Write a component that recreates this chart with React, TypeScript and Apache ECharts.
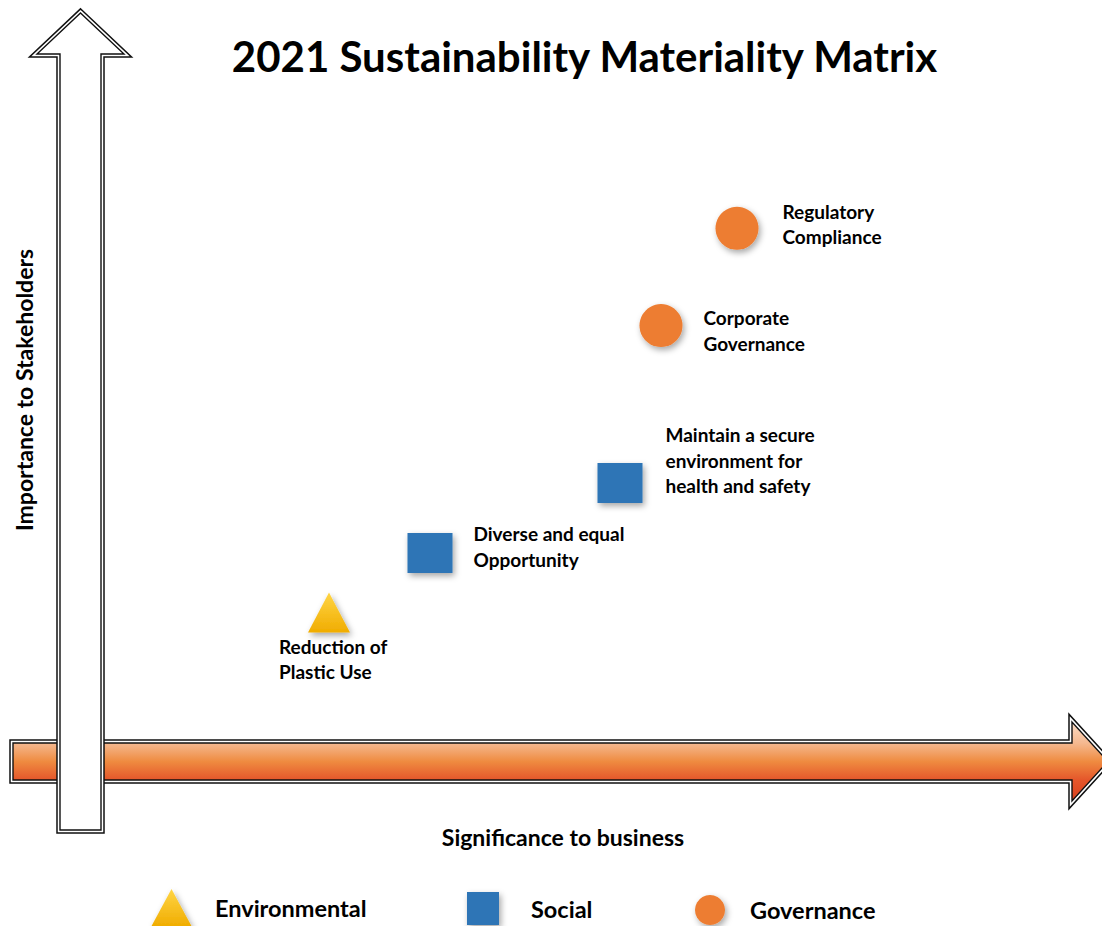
import React, { useEffect, useRef } from "react";
import * as echarts from "echarts";

// ---- data ----
const titleText = "2021 Sustainability Materiality Matrix";
const xAxisName = "Significance to business";
const yAxisName = "Importance to Stakeholders";
const categories = ["Environmental", "Social", "Governance"];

const envTopics = ["Reduction of\nPlastic Use"];
const envX = [2.48];
const envY = [2.12];

const socialTopics = ["Diverse and equal\nOpportunity", "Maintain a secure\nenvironment for\nhealth and safety"];
const socialX = [3.49, 5.39];
const socialY = [2.97, 3.97];

const govTopics = ["Corporate\nGovernance", "Regulatory\nCompliance"];
const govX = [5.8, 6.56];
const govY = [6.22, 7.61];

const FONT = "Lato, 'Open Sans', sans-serif";

const shadow = {
  shadowBlur: 6,
  shadowOffsetX: 2,
  shadowOffsetY: 3,
  shadowColor: "rgba(0,0,0,0.35)",
};

const labelBase = {
  show: true,
  formatter: "{b}",
  fontFamily: FONT,
  fontWeight: "bold" as const,
  fontSize: 19,
  lineHeight: 25.5,
  color: "#000",
  opacity: 1,
  align: "left" as const,
};

// label placement per topic (styling, not data)
const labelPlacement: Record<string, any> = {
  "Reduction of\nPlastic Use": { position: "bottom", distance: 1, offset: [-50, 0] },
  "Diverse and equal\nOpportunity": { position: "right", distance: 21, offset: [0, -6.5] },
  "Maintain a secure\nenvironment for\nhealth and safety": { position: "right", distance: 23, offset: [0, -23] },
  "Corporate\nGovernance": { position: "right", distance: 21, offset: [0, 5] },
  "Regulatory\nCompliance": { position: "right", distance: 24, offset: [0, -4.5] },
};

function makeData(names: string[], xs: number[], ys: number[]) {
  return names.map((n, i) => ({
    name: n,
    value: [xs[i], ys[i]],
    label: { ...labelBase, ...labelPlacement[n] },
  }));
}

const yellowGrad = new echarts.graphic.LinearGradient(0, 0, 0, 1, [
  { offset: 0, color: "#ffd545" },
  { offset: 1, color: "#f0ac00" },
]);

const orangeGrad = new echarts.graphic.LinearGradient(0, 0, 0, 1, [
  { offset: 0, color: "#fbdcc6" },
  { offset: 0.27, color: "#f5b88f" },
  { offset: 0.5, color: "#ef8b40" },
  { offset: 0.73, color: "#e5572b" },
  { offset: 1, color: "#d8401e" },
]);

// arrow outlines (decoration)
const hArrow = [
  [13, 743], [1072, 743], [1072, 722], [1108, 761.5], [1072, 801], [1072, 780], [13, 780],
];
const vArrow = [
  [80.5, 13], [124, 54], [101, 54], [101, 830], [60, 830], [60, 54], [37, 54],
];

function arrowLayers(points: number[][], fill: any) {
  return [
    { type: "polygon", z: -10, shape: { points }, style: { fill: "none", stroke: "#111", lineWidth: 7.5 } },
    { type: "polygon", z: -10, shape: { points }, style: { fill: "none", stroke: "#fff", lineWidth: 4.5 } },
    { type: "polygon", z: -10, shape: { points }, style: { fill, stroke: "#111", lineWidth: 1.4 } },
  ];
}

export default function App() {
  const ref = useRef<HTMLDivElement>(null);
  useEffect(() => {
    if (!ref.current) return;
    const chart = echarts.init(ref.current, undefined, { renderer: "svg" });
    const legendText = (pad: number) => ({
      fontFamily: FONT,
      fontWeight: "bold" as const,
      fontSize: 23.5,
      color: "#000",
      padding: [0, 0, 0, pad],
    });
    const legendCommon = { padding: 0, selectedMode: false, itemStyle: { ...shadow, opacity: 1 } };
    chart.setOption({
      animation: false,
      backgroundColor: "#fff",
      grid: { left: 81, top: 61, width: 1000, height: 700 },
      xAxis: { type: "value", min: 0, max: 10, show: false },
      yAxis: { type: "value", min: 0, max: 10, show: false },
      legend: [
        {
          ...legendCommon, data: [categories[0]], left: 151, top: 889, itemWidth: 41, itemHeight: 38,
          textStyle: legendText(18),
        },
        {
          ...legendCommon, data: [categories[1]], left: 467, top: 892, itemWidth: 32, itemHeight: 33,
          textStyle: legendText(27),
        },
        {
          ...legendCommon, data: [categories[2]], left: 695, top: 895, itemWidth: 30, itemHeight: 30,
          textStyle: legendText(20),
        },
      ],
      graphic: [
        ...arrowLayers(hArrow, orangeGrad),
        ...arrowLayers(vArrow, "#fff"),
        {
          type: "text", x: 584.5, y: 56,
          style: { text: titleText, align: "center", verticalAlign: "middle", fontFamily: FONT, fontWeight: "bold", fontSize: 42, fill: "#000" },
        },
        {
          type: "text", x: 563, y: 837,
          style: { text: xAxisName, align: "center", verticalAlign: "middle", fontFamily: FONT, fontWeight: "bold", fontSize: 23, fill: "#000" },
        },
        {
          type: "text", x: 24, y: 390, rotation: Math.PI / 2,
          style: { text: yAxisName, align: "center", verticalAlign: "middle", fontFamily: FONT, fontWeight: "bold", fontSize: 23, fill: "#000" },
        },
      ],
      series: [
        {
          type: "scatter", name: categories[0], symbol: "triangle", symbolSize: [42, 40],
          itemStyle: { color: yellowGrad, opacity: 1, ...shadow },
          data: makeData(envTopics, envX, envY),
        },
        {
          type: "scatter", name: categories[1], symbol: "rect", symbolSize: [45, 40],
          itemStyle: { color: "#2e75b6", opacity: 1, ...shadow },
          data: makeData(socialTopics, socialX, socialY),
        },
        {
          type: "scatter", name: categories[2], symbol: "circle", symbolSize: 43,
          itemStyle: { color: "#ed7d31", opacity: 1, ...shadow },
          data: makeData(govTopics, govX, govY),
        },
      ],
    });
    return () => chart.dispose();
  }, []);
  return (
    <div
      ref={ref}
      style={{ position: "absolute", left: 0, top: 0, width: 1102, height: 926 }}
    />
  );
}
